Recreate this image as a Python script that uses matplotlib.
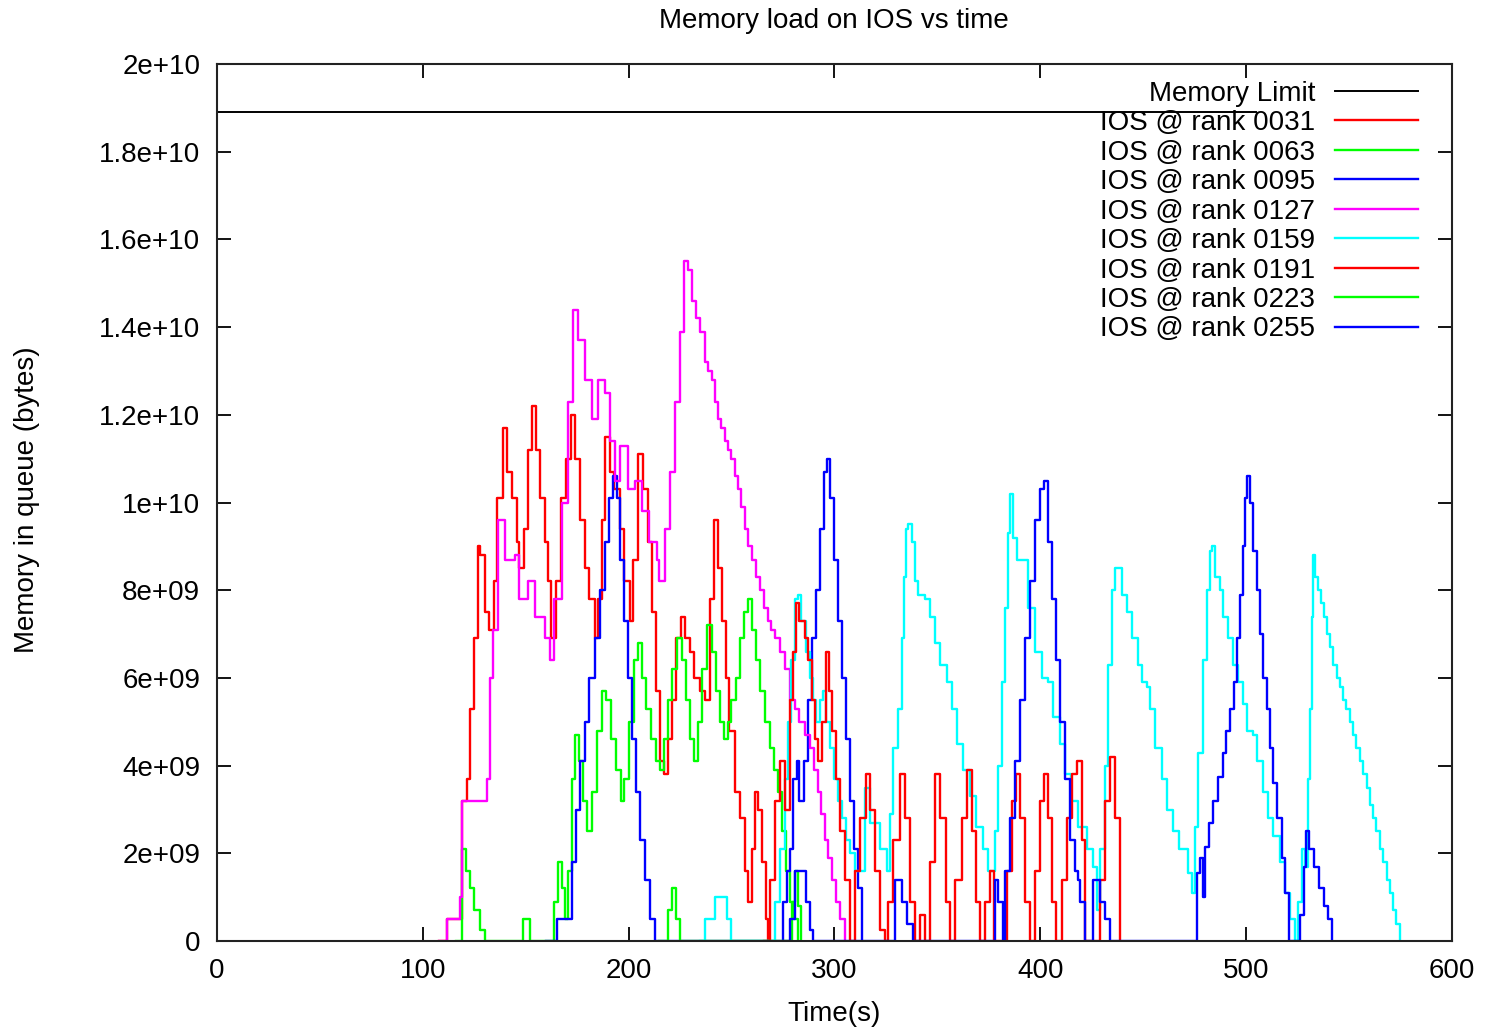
import numpy as np
import matplotlib.pyplot as plt

# times in s, loads in 1e9 bytes
limit_t = [0, 505]
limit_v = [18.9, 18.9]

r0031_t = [108, 111.8, 112, 118, 119, 121.5, 123, 125, 127, 128, 130, 132, 134.6, 136, 139, 141, 143.3,
           145.8, 147, 149, 151, 153, 155, 157, 159.4, 161, 162.3, 164.7, 167, 169.6, 172, 174, 176.4,
           178.8, 181, 183.7, 185, 187, 188.5, 191, 193, 196, 198, 200.7, 202, 204.6, 207, 209.4, 211.4,
           213.3, 215.3, 217.2, 219, 221, 223, 225.5, 227.4, 229.8, 232, 234.7, 237, 239.5, 241.5, 243.4,
           245.4, 247.3, 249, 251.7, 254, 256.5, 258, 260, 261.4, 262.9, 264.8, 266.8, 267.7]
r0031_v = [0, 0, 0.5, 0.5, 3.2, 3.7, 5.3, 6.9, 9.0, 8.8, 7.5, 7.1, 8.2, 10.1, 11.7, 10.7, 10.1,
           9.1, 8.5, 9.4, 11.2, 12.2, 11.2, 10.1, 9.1, 8.2, 6.9, 8.2, 10.1, 11.0, 12.0, 11.0, 9.6,
           8.5, 7.8, 6.9, 7.8, 9.6, 11.5, 10.7, 10.3, 9.4, 8.2, 7.3, 8.7, 11.1, 10.3, 9.1, 7.5,
           5.7, 4.1, 3.8, 4.6, 5.5, 6.9, 7.4, 6.9, 6.6, 6.0, 5.7, 5.5, 7.8, 9.6, 8.5,
           7.3, 6.0, 4.8, 3.4, 2.8, 1.6, 0.9, 2.1, 3.4, 3.0, 1.8, 0.5, 0]

g0063_t = [116, 118, 119, 121, 123, 125, 128, 130, 147, 148.7, 150.6, 152, 161.8, 164, 165.7, 167.6,
           169, 170.6, 172.5, 174, 176, 177.8, 180, 182, 184.6, 187, 189, 191.4, 194, 196.3, 198, 200,
           202.6, 204.6, 206.5, 208.5, 210.9, 213.3, 215.3, 217.2, 219, 221, 223.5, 226, 228, 229.8,
           231.8, 233.7, 235.7, 238, 240.5, 242.5, 244.4, 246.4, 248.3, 250, 252, 254, 256, 258, 260,
           262, 263.8, 266.3, 268.7, 270.6, 272.6, 274.5, 276.5, 278.4, 280.4, 282.3]
g0063_v = [0, 0, 2.1, 1.6, 1.2, 0.7, 0.25, 0, 0, 0.5, 0.5, 0, 0, 0.9, 1.8, 1.2,
           0.5, 1.6, 3.7, 4.7, 4.1, 3.2, 2.5, 3.4, 4.8, 5.7, 5.5, 4.6, 3.9, 3.2, 3.7, 5.0,
           6.4, 6.8, 6.0, 5.3, 4.6, 4.1, 3.9, 4.6, 5.5, 6.2, 6.9, 6.4, 5.5, 4.6,
           4.1, 5.0, 6.2, 7.2, 6.6, 5.7, 5.0, 4.6, 5.0, 5.5, 6.0, 6.9, 7.5, 7.8, 7.1,
           6.4, 5.7, 5.0, 4.4, 3.9, 3.4, 2.5, 1.6, 0.9, 0.5, 0]

b0095_t = [160, 164, 165, 170.6, 172.5, 174.4, 176.4, 178.8, 181, 183.7, 186, 188.5, 190.5, 192.4,
           194.4, 196, 197.8, 199.7, 201.6, 203.6, 205.5, 208, 210.4, 212.8, 273.6, 275, 277, 278.4,
           280, 281.8, 283, 285, 287, 289, 291, 293, 295, 296.4, 297.9, 299.8, 301.7, 303.7, 305.6,
           307.6, 309.5, 311.5, 313.4]
b0095_v = [0, 0, 0.5, 0.5, 1.8, 3.0, 4.1, 5.0, 6.0, 6.9, 8.0, 9.1, 10.1, 10.6,
           10.1, 8.7, 7.3, 6.0, 4.6, 3.4, 2.3, 1.4, 0.5, 0, 0, 0.9, 1.6, 2.1,
           3.7, 4.1, 3.2, 4.1, 5.5, 6.9, 8.0, 9.4, 10.7, 11.0, 10.1, 8.7, 7.3, 6.0, 4.6,
           3.2, 2.1, 1.2, 0]

m0127_t = [108, 111.8, 118, 119, 131, 132.7, 134, 136.5, 140, 145, 147, 151, 154.5, 159.4, 162, 164,
           167.6, 170.5, 173, 175.4, 179, 182, 185, 188.5, 191, 193.4, 196, 199.7, 203, 206.5, 210,
           213.8, 215, 217.7, 220, 222.5, 225, 227, 228.9, 230.8, 232.8, 234.7, 237, 238.8, 240.5, 242,
           243.4, 245, 246.8, 248.4, 250, 251.5, 253, 254.8, 256.5, 258.2, 260, 262, 263.8, 265.8,
           267.7, 269.4, 271, 273.5, 276, 278.4, 280.7, 283, 285.5, 288, 290, 292, 293.7, 295.4, 297,
           298.8, 300.8, 302.7, 305]
m0127_v = [0, 0.5, 1.0, 3.2, 3.7, 6.0, 7.1, 9.6, 8.7, 8.8, 7.8, 8.2, 7.4, 6.9, 6.4, 7.8,
           10.0, 12.3, 14.4, 13.7, 12.8, 11.9, 12.8, 12.5, 11.4, 10.5, 11.3, 10.3, 10.5, 9.8, 9.1,
           8.7, 8.2, 9.4, 10.7, 12.3, 13.9, 15.5, 15.3, 14.6, 14.2, 13.9, 13.2, 13.0, 12.8, 12.3,
           11.9, 11.7, 11.4, 11.2, 11.0, 10.6, 10.3, 9.9, 9.4, 9.0, 8.7, 8.3, 8.0, 7.6,
           7.3, 7.1, 6.9, 6.6, 6.2, 5.5, 5.3, 5.0, 4.7, 4.4, 3.9, 3.4, 2.9, 2.3, 1.9,
           1.4, 0.9, 0.5, 0]

c0159_t = [234.7, 237, 242, 245.4, 247.8, 250, 269, 271, 273.6, 276, 277.5, 279, 281, 282.3, 284, 286,
           288, 289.6, 291, 293, 294.5, 296, 298, 299.8, 301.7, 303.7, 305.6, 307.6, 310, 312.4, 315,
           317.3, 322, 325.4, 327, 328.6, 331, 332.7, 333.8, 334.8, 336, 337.5, 339, 340.7, 343.9, 346.4,
           348.8, 351.3, 354.5, 357, 359.4, 362.6, 365.8, 369, 372.3, 374.7, 376.3, 378, 379.6, 381.2,
           382.9, 384.5, 385.3, 387, 388.6, 392.6, 394, 397.5, 400.7, 403.9, 406.3, 409.6, 412, 415,
           418.4, 422.5, 425.7, 427.4, 429, 431.5, 433, 434.7, 436.3, 437.8, 439.6, 442, 444.5, 447.7,
           449.3, 451.7, 453.3, 455.8, 459, 461.5, 464.7, 467.2, 470.4, 472, 473.6, 475.2, 476.8, 479.2,
           480.9, 482.5, 483.3, 485, 487.4, 489, 491.4, 493.8, 496.2, 498.6, 500.3, 503.5, 505.2, 508.4,
           510.8, 513.3, 516.5, 518.9, 521.4, 523.8, 525.4, 527, 528.6, 530.2, 531, 531.9, 532.7, 533.5,
           535.1, 536.5, 538, 539.5, 541, 542.4, 544, 545.6, 547.2, 548.8, 550.5, 552, 553.6, 555.2,
           556.9, 558.6, 560.2, 561.8, 563.4, 565, 566.7, 568.3, 569.9, 571.5, 573.1, 574.8]
c0159_v = [0, 0.5, 1.0, 1.0, 0.5, 0, 0, 0.9, 2.1, 3.7, 5.0, 6.4, 7.8, 7.9, 7.3, 6.6,
           6.0, 5.5, 5.0, 5.5, 5.7, 5.0, 4.4, 3.7, 3.2, 2.8, 2.3, 2.0, 1.6, 1.6, 3.5,
           2.7, 2.1, 1.6, 2.9, 4.4, 5.3, 6.9, 8.3, 9.4, 9.5, 9.1, 8.2, 7.9, 7.8, 7.4,
           6.8, 6.3, 5.9, 5.3, 4.5, 3.9, 3.3, 2.6, 2.1, 1.6, 1.6, 2.5, 4.0, 5.9,
           7.6, 9.3, 10.2, 9.2, 8.7, 8.7, 7.6, 6.6, 6.0, 5.9, 5.1, 4.5, 3.8, 3.2,
           2.6, 2.1, 1.7, 0.7, 2.1, 4.0, 6.3, 8.0, 8.5, 8.5, 7.9, 7.5, 6.9, 6.3,
           5.9, 5.8, 5.3, 4.4, 3.7, 3.0, 2.5, 2.1, 2.1, 1.55, 1.1, 2.6, 4.3, 6.4,
           8.0, 8.9, 9.0, 8.3, 8.0, 7.4, 6.9, 6.3, 5.9, 5.4, 4.8, 4.7, 4.1, 3.4,
           2.8, 2.4, 1.8, 1.1, 0.5, 0, 0.9, 2.1, 1.7, 3.7, 5.3, 7.4, 8.8, 8.3,
           8.0, 7.7, 7.4, 7.0, 6.7, 6.3, 6.0, 5.8, 5.5, 5.3, 5.0, 4.7, 4.4, 4.1,
           3.8, 3.5, 3.1, 2.8, 2.5, 2.1, 1.8, 1.4, 1.1, 0.7, 0.4, 0]

r0191_t = [266, 268.7, 271, 273.6, 276, 278.4, 280, 281.3, 283, 285.7, 287, 289, 290.6, 292, 294, 296,
           297.4, 298.8, 300.8, 302.7, 305, 307.6, 310, 312.4, 315.4, 317.3, 319.7, 322, 324.6, 326,
           328.5, 331.9, 334.3, 336.7, 339, 341.6, 344, 346.5, 349, 351.3, 354.2, 356, 358.6, 362,
           364.4, 366.8, 368.8, 370.7, 373, 375.6, 377.5, 381, 384, 386.3, 388.2, 390, 392.6, 395,
           397.5, 400, 401.8, 403.8, 405.7, 407.7, 410.6, 413, 415.5, 418, 420.3, 421.8, 426.6, 429,
           431.5, 434, 436.3, 438.8]
r0191_v = [0, 1.4, 3.2, 4.1, 3.0, 5.5, 6.6, 7.7, 7.3, 6.9, 6.4, 5.5, 4.6, 4.1, 5.0, 6.6,
           5.7, 4.8, 3.7, 2.5, 1.4, 0, 1.6, 2.8, 3.8, 3.0, 1.6, 0.25, 0, 0.9,
           2.3, 3.8, 2.8, 0.9, 0, 0.6, 0, 1.8, 3.8, 2.8, 0.9, 0, 1.4, 2.8,
           3.9, 2.5, 0.9, 0, 0.9, 1.6, 0, 0, 1.6, 3.2, 3.8, 2.8, 0.9, 0,
           1.6, 3.2, 3.8, 2.8, 0.9, 0, 1.4, 2.8, 3.8, 4.1, 2.3, 0, 0, 1.4,
           3.2, 4.2, 2.8, 0]

g0223_t = [215, 217.7, 219, 221, 223, 225, 278, 279.5, 281, 282.5, 284]
g0223_v = [0, 0, 0.7, 1.2, 0.5, 0, 0, 0.9, 1.6, 0.8, 0]

b0255_t = [276, 278.4, 280.9, 284, 286, 288, 289.6, 326, 329.5, 331, 333, 335.5, 338,
           375.6, 378, 379.5, 382, 383, 385.3, 387.8, 390, 392.6, 395, 397.5, 400, 401.8, 403.8, 405.7,
           407.7, 409.6, 412, 414.5, 417, 418.4, 419.3, 421.8, 424, 425.6, 429, 431.5, 434,
           474, 476, 477.5, 479, 480, 482, 484, 486.5, 489, 490.5, 492.3, 494, 495.5, 497, 498.6,
           499.6, 500.6, 501.7, 503.3, 505.2, 506.8, 508.4, 510, 511.7, 513.3, 515, 517.4, 519, 520.7,
           524.7, 526.3, 528, 529.3, 530.4, 532.8, 535.3, 537.7, 540, 541.8]
b0255_v = [0, 0.5, 1.6, 1.6, 0.9, 0.25, 0, 0, 1.4, 1.4, 0.9, 0.4, 0,
           0, 1.4, 0.9, 0, 1.6, 2.8, 4.1, 5.5, 6.9, 8.2, 9.6, 10.3, 10.5, 9.1, 7.8,
           6.4, 5.0, 3.7, 2.3, 1.6, 1.4, 0.9, 0, 0, 1.4, 0.9, 0.5, 0,
           0, 1.55, 1.9, 1.0, 2.15, 2.7, 3.2, 3.75, 4.3, 4.8, 5.3, 5.9, 6.9, 7.9, 9.0,
           10.1, 10.6, 10.0, 8.9, 8.0, 7.0, 6.0, 5.3, 4.4, 3.6, 2.8, 1.9, 1.1, 0,
           0, 0.6, 1.7, 2.5, 2.1, 1.7, 1.2, 0.8, 0.5, 0]

series = [
    ("IOS @ rank 0031", r0031_t, r0031_v, "#ff0000"),
    ("IOS @ rank 0063", g0063_t, g0063_v, "#00ff00"),
    ("IOS @ rank 0095", b0095_t, b0095_v, "#0000ff"),
    ("IOS @ rank 0127", m0127_t, m0127_v, "#ff00ff"),
    ("IOS @ rank 0159", c0159_t, c0159_v, "#00ffff"),
    ("IOS @ rank 0191", r0191_t, r0191_v, "#ff0000"),
    ("IOS @ rank 0223", g0223_t, g0223_v, "#00ff00"),
    ("IOS @ rank 0255", b0255_t, b0255_v, "#0000ff"),
]

plt.rcParams['font.family'] = ['Liberation Sans', 'DejaVu Sans']
FS = 20

fig = plt.figure(figsize=(14.86, 10.33), dpi=100)
ax = fig.add_axes([0.146, 0.089, 0.831, 0.849])

ax.plot(limit_t, np.array(limit_v) * 1e9, color="black", lw=1.4, label="Memory Limit")
for name, t, v, col in series:
    ax.plot(t, np.array(v) * 1e9, color=col, lw=1.7, drawstyle="steps-post", label=name)

ax.set_xlim(0, 600)
ax.set_ylim(0, 2e10)
ax.set_xticks(range(0, 601, 100))
ax.set_yticks(np.arange(0, 2.01e10, 2e9))
ax.yaxis.set_major_formatter(plt.FuncFormatter(lambda y, p: "%g" % y))
ax.tick_params(direction="in", length=10, width=1.3, top=True, right=True,
               labelsize=FS, pad=12)
for s in ax.spines.values():
    s.set_linewidth(1.5)
    s.set_color("#222222")

fig.text(834 / 1486, 1 - 21 / 1033, "Memory load on IOS vs time", fontsize=FS,
         ha="center", va="center")
ax.set_xlabel("Time(s)", fontsize=FS)
ax.xaxis.set_label_coords(0.5, -0.068)
ax.set_ylabel("Memory in queue (bytes)", fontsize=FS)
ax.yaxis.set_label_coords(-0.143, 0.503)

ax.legend(loc="upper right", bbox_to_anchor=(0.9725, 0.981), frameon=False, markerfirst=False,
          fontsize=FS, handlelength=3.0, labelspacing=0.125, borderaxespad=0, borderpad=0,
          handletextpad=0.7)

fig.savefig("out.png", dpi=100)
